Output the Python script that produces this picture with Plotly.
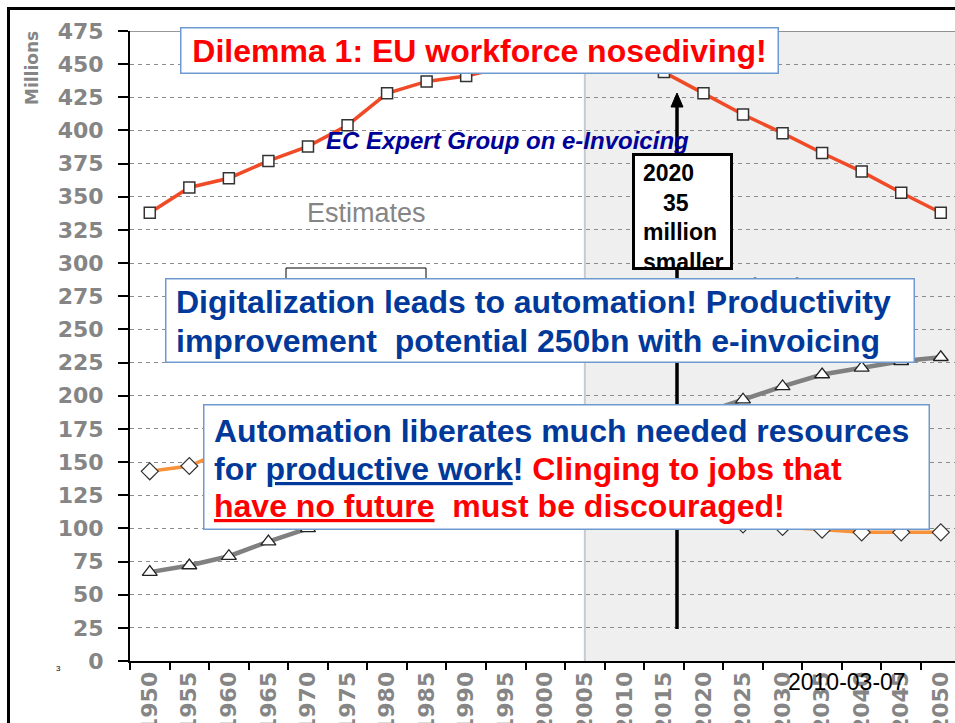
import plotly.graph_objects as go

# ---------------- data ----------------
years = ["1950", "1955", "1960", "1965", "1970", "1975", "1980", "1985", "1990", "1995", "2000",
         "2005", "2010", "2015", "2020", "2025", "2030", "2035", "2040", "2045", "2050"]
working_age = [338, 357, 364, 377, 388, 404, 428, 437, 441, 448, 453, 457, 452, 444, 428, 412,
               398, 383, 369, 353, 338]
young = [143, 147, 160, 165, 163, 158, 150, 142, 135, 128, 122, 117, 113, 109, 106, 103,
         101, 99, 97, 97, 97]
elderly = [67, 72, 79, 90, 100, 106, 113, 121, 129, 137, 146, 155, 165, 176, 187, 197,
           207, 216, 221, 226, 229]
y_ticks = list(range(0, 476, 25))
projection_start = "2005"

# ---------------- geometry helpers (window pixel -> paper) ----------------
FW, FH = 955, 723
L, R, T, B = 130, 955, 31, 661   # plot area in window pixels
PW, PH = R - L, B - T


def px(x):
    return (x - L) / PW


def py(y):
    return (B - y) / PH


BIG = "Liberation Sans, Arial, sans-serif"
TICKF = "DejaVu Sans, sans-serif"
BLUE = "#00399A"
RED = "#FF0000"
GRAY = "#858585"

fig = go.Figure()

fig.add_trace(go.Scatter(
    x=years, y=working_age, mode="lines+markers",
    line=dict(color="#F04B26", width=3.5),
    marker=dict(symbol="square", size=11, color="white", line=dict(color="#333333", width=1.5)),
    showlegend=False))
fig.add_trace(go.Scatter(
    x=years, y=young, mode="lines+markers",
    line=dict(color="#F7923A", width=3.5),
    marker=dict(symbol="diamond", size=13, color="white", line=dict(color="#333333", width=1.2)),
    showlegend=False))
fig.add_trace(go.Scatter(
    x=years, y=elderly, mode="lines+markers",
    line=dict(color="#808080", width=4.5),
    marker=dict(symbol="triangle-up", size=13, color="white", line=dict(color="#222222", width=1.3)),
    showlegend=False))

xmax = -0.5 + PW / 39.55
ps = years.index(projection_start)

shapes = [
    dict(type="rect", xref="x", yref="y", x0=ps, x1=xmax, y0=0, y1=475,
         fillcolor="#EEEFEE", line=dict(width=0), layer="below"),
    dict(type="line", xref="x", yref="y", x0=ps, x1=ps, y0=0, y1=475,
         line=dict(color="#C5CBD3", width=2), layer="below"),
    dict(type="line", xref="paper", yref="y", x0=0, x1=1, y0=475, y1=475,
         line=dict(color="#333333", width=1)),
    # slide frame
    dict(type="rect", xref="paper", yref="paper", x0=px(8.5), x1=px(975), y0=py(8.5), y1=py(745),
         line=dict(color="black", width=3), fillcolor="rgba(0,0,0,0)"),
    # vertical arrow
    dict(type="line", xref="paper", yref="paper", x0=px(677), x1=px(677), y0=py(629), y1=py(104),
         line=dict(color="black", width=3.5)),
    dict(type="path", xref="paper", yref="paper",
         path=f"M {px(677)} {py(93)} L {px(683)} {py(107)} L {px(671)} {py(107)} Z",
         fillcolor="black", line=dict(color="black", width=1)),
    # horizontal arrow
    dict(type="line", xref="paper", yref="paper", x0=px(853), x1=px(697), y0=py(402), y1=py(402),
         line=dict(color="black", width=3), layer="between"),
    dict(type="path", xref="paper", yref="paper",
         path=f"M {px(686)} {py(402)} L {px(700)} {py(397)} L {px(700)} {py(407)} Z",
         fillcolor="black", line=dict(color="black", width=1), layer="between"),
    # box hidden behind the digitalization box
    dict(type="rect", xref="paper", yref="paper", x0=px(286), x1=px(426), y0=py(300), y1=py(268),
         fillcolor="white", line=dict(color="black", width=1)),
]


def box(x0, y0, x1, y1, bw, bcolor, text=" ", font=None, align="center"):
    W = x1 - x0 - 2 * bw
    H = y1 - y0 - 2 * bw
    return dict(xref="paper", yref="paper", x=px(x0), y=py(y0), xanchor="left", yanchor="top",
                showarrow=False, text=text, width=W, height=H, bgcolor="white",
                bordercolor=bcolor, borderwidth=bw, borderpad=0, align=align, valign="middle",
                font=font or dict(size=10))


def txt(x, y, text, size, color, family=BIG, weight="normal", xanchor="left", style="normal",
        angle=0):
    return dict(xref="paper", yref="paper", x=px(x), y=py(y), xanchor=xanchor, yanchor="middle",
                showarrow=False, text=text, borderpad=0, borderwidth=0, textangle=angle,
                font=dict(family=family, size=size, color=color, weight=weight, style=style))


ann = [
    txt(710, 288, "Projections", 27, GRAY),
    txt(366, 213, "Estimates", 27, GRAY, xanchor="center"),
    txt(507, 140, "EC Expert Group on e-Invoicing", 24, "#000099", weight="bold",
        xanchor="center", style="italic"),
    txt(32, 68, "Millions", 17, GRAY, family=TICKF, weight="bold", xanchor="center", angle=-90),
    txt(58, 668, "3", 8, "black", xanchor="center"),
    box(180, 27, 779, 74, 1.5, "#6F9AD0", text="Dilemma 1: EU workforce nosediving!",
        font=dict(family=BIG, size=32, color=RED, weight="bold")),
    box(632, 153, 733, 270, 3, "black"),
    txt(643, 173, "2020", 23, "black", weight="bold"),
    txt(663, 203, "35", 23, "black", weight="bold"),
    txt(643, 232, "million", 23, "black", weight="bold"),
    txt(643, 262, "smaller", 23, "black", weight="bold"),
    box(165, 278, 915, 363, 1.5, "#6F9AD0"),
    txt(176, 302, "Digitalization leads to automation! Productivity", 32, BLUE, weight="bold"),
    txt(176, 341, "improvement  potential 250bn with e-invoicing", 32, BLUE, weight="bold"),
    box(203, 404, 930, 530, 1.5, "#6F9AD0"),
    txt(214, 431, "Automation liberates much needed resources", 32, BLUE, weight="bold"),
    txt(214, 469, "for <u>productive work</u>! <span style='color:#FF0000'>Clinging to jobs that</span>",
        32, BLUE, weight="bold"),
    txt(214, 506, "<u>have no future</u> \u00a0must be discouraged!", 32, RED, weight="bold"),
    txt(847, 682, "2010-03-07", 23, "black", xanchor="center"),
]

fig.update_layout(
    width=FW, height=FH,
    margin=dict(l=L, r=FW - R, t=T, b=FH - B),
    paper_bgcolor="white", plot_bgcolor="white",
    shapes=shapes, annotations=ann,
    xaxis=dict(type="category", range=[-0.5, xmax], showgrid=False, showline=True,
               linecolor="black", linewidth=2, ticks="outside", tickson="boundaries",
               ticklen=7, tickwidth=2, tickcolor="black", tickangle=-90,
               tickfont=dict(family=TICKF, size=22, color=GRAY, weight="bold"),
               automargin=False, zeroline=False),
    yaxis=dict(range=[0, 475], tickvals=y_ticks, showgrid=True, gridcolor="#8C8C8C",
               griddash="4px,4px", gridwidth=1, showline=True, linecolor="black", linewidth=2,
               ticks="outside", ticklen=10, tickwidth=2, tickcolor="black",
               ticklabelstandoff=10,
               tickfont=dict(family=TICKF, size=22, color=GRAY, weight="bold"),
               automargin=False, zeroline=False),
)

fig.write_html(
    "out.html",
    config={"displayModeBar": False},
    post_script="document.body.style.margin='0';"
                "document.documentElement.style.overflow='hidden';",
)
